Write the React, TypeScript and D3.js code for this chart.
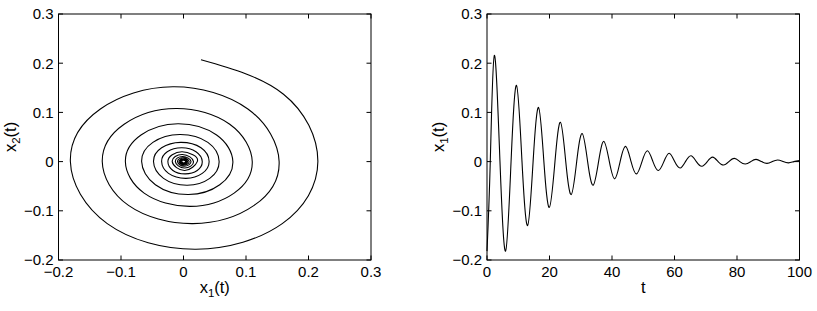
import React from 'react';
import * as d3 from 'd3';

const W = 817;
const H = 311;

// left panel: phase portrait (clockwise). Axis crossings and extremes per turn
const spiralStart = [0.028, 0.207];
const spiralOuterMid = [0.160, 0.137];
const rightX1 = [0.215, 0.153, 0.110, 0.079, 0.057, 0.041, 0.030, 0.022, 0.016, 0.012, 0.009, 0.0065, 0.0047, 0.0034];
const bottomX1 = [0.020, 0.015, 0.011, 0.008, 0.006, 0.004, 0.003, 0.002, 0.0015, 0.001, 0.0008, 0.0006, 0.0004, 0.0003];
const bottomX2 = [-0.178, -0.126, -0.091, -0.067, -0.048, -0.034, -0.025, -0.018, -0.013, -0.0095, -0.007, -0.005, -0.0037, -0.0027];
const leftX1 = [-0.181, -0.130, -0.093, -0.067, -0.048, -0.035, -0.025, -0.018, -0.013, -0.0095, -0.007, -0.005, -0.0037, -0.0027];
const topX1 = [-0.017, -0.012, -0.009, -0.006, -0.0045, -0.003, -0.0022, -0.0016, -0.0012, -0.0009, -0.0006, -0.0005, -0.0003];
const topX2 = [0.152, 0.108, 0.077, 0.055, 0.039, 0.028, 0.020, 0.0145, 0.0105, 0.0077, 0.0056, 0.004, 0.003];
// in-between readings on the outer turns (right-bottom, bottom-left, left-top, top-right)
const rbX1 = [0.158, 0.113, 0.081, 0.058, 0.042, 0.030, 0.022];
const rbX2 = [-0.126, -0.089, -0.064, -0.047, -0.034, -0.024, -0.018];
const blX1 = [-0.122, -0.088, -0.063, -0.045, -0.032, -0.024, -0.017];
const blX2 = [-0.126, -0.089, -0.064, -0.047, -0.034, -0.024, -0.018];
const ltX1 = [-0.133, -0.095, -0.068, -0.049, -0.035, -0.026, -0.018];
const ltX2 = [0.107, 0.076, 0.054, 0.039, 0.028, 0.020, 0.014];
const trX1 = [0.103, 0.074, 0.053, 0.039, 0.028, 0.020, 0.015];
const trX2 = [0.107, 0.076, 0.054, 0.039, 0.028, 0.020, 0.014];

// right panel: x1(t), read at the peaks, troughs and zero crossings
const seriesStart = [0, -0.182];
const seriesEnd = [100, 0.002];
const peakT = [2.35, 9.45, 16.5, 23.5, 30.45, 37.4, 44.35, 51.35, 58.3, 65.25, 72.2, 79.15, 86.1, 93.0];
const peakX = [0.216, 0.155, 0.110, 0.080, 0.057, 0.041, 0.031, 0.022, 0.017, 0.012, 0.009, 0.0065, 0.0045, 0.0032];
const troughT = [5.95, 13.0, 19.95, 26.95, 33.95, 40.9, 47.85, 54.85, 61.8, 68.75, 75.7, 82.65, 89.6, 96.5];
const troughX = [-0.182, -0.130, -0.093, -0.067, -0.048, -0.035, -0.025, -0.018, -0.013, -0.0095, -0.007, -0.005, -0.0036, -0.0026];
const zeroT = [1.05, 4.15, 7.7, 11.2, 14.75, 18.2, 21.75, 25.2, 28.7, 32.2, 35.7, 39.15, 42.6, 46.1, 49.6,
  53.1, 56.6, 60.05, 63.5, 67.0, 70.5, 73.95, 77.4, 80.9, 84.4, 87.85, 91.3, 94.75, 98.2];

const phaseTicks = [-0.2, -0.1, 0, 0.1, 0.2, 0.3];
const timeTicks = [0, 20, 40, 60, 80, 100];

// build point lists
const spiral: [number, number][] = [
  [spiralStart[0], spiralStart[1]],
  [spiralOuterMid[0], spiralOuterMid[1]],
];
rightX1.forEach((r, i) => {
  const fine = i < rbX1.length;
  spiral.push([r, 0]);
  if (fine) spiral.push([rbX1[i], rbX2[i]]);
  if (i < bottomX1.length) spiral.push([bottomX1[i], bottomX2[i]]);
  if (fine) spiral.push([blX1[i], blX2[i]]);
  if (i < leftX1.length) spiral.push([leftX1[i], 0]);
  if (fine) spiral.push([ltX1[i], ltX2[i]]);
  if (i < topX1.length) spiral.push([topX1[i], topX2[i]]);
  if (fine) spiral.push([trX1[i], trX2[i]]);
});

const series: [number, number][] = [
  [seriesStart[0], seriesStart[1]],
  ...peakT.map((t, i) => [t, peakX[i]] as [number, number]),
  ...troughT.map((t, i) => [t, troughX[i]] as [number, number]),
  ...zeroT.map((t) => [t, 0] as [number, number]),
  [seriesEnd[0], seriesEnd[1]],
].sort((a, b) => a[0] - b[0]);

const font = '"Liberation Sans", Arial, Helvetica, sans-serif';
const fmt = d3.format('');

const Label = ({ sub }: { sub: string }) => (
  <>
    <tspan>x</tspan>
    <tspan dy={4} fontSize={11.5}>{sub}</tspan>
    <tspan dy={-4}>(t)</tspan>
  </>
);

type PanelProps = {
  x0: number; x1: number; y0: number; y1: number;
  xDomain: [number, number]; yDomain: [number, number];
  xTicks: number[]; yTicks: number[];
  data: [number, number][];
  xLabel: React.ReactNode; yLabel: React.ReactNode;
  yLabelX: number;
};

const Panel = (p: PanelProps) => {
  const x = d3.scaleLinear().domain(p.xDomain).range([p.x0, p.x1]);
  const y = d3.scaleLinear().domain(p.yDomain).range([p.y1, p.y0]);
  const line = d3.line<[number, number]>()
    .x((d) => x(d[0]))
    .y((d) => y(d[1]))
    .curve(d3.curveNatural);
  const tl = 4.5;
  const cy = (p.y0 + p.y1) / 2;
  return (
    <g fontFamily={font} fontSize={15} fill="#000">
      <path d={line(p.data) || ''} fill="none" stroke="#000" strokeWidth={1.1} />
      <rect x={p.x0} y={p.y0} width={p.x1 - p.x0} height={p.y1 - p.y0}
        fill="none" stroke="#000" strokeWidth={1} />
      {p.xTicks.map((t) => (
        <g key={'x' + t}>
          <line x1={x(t)} x2={x(t)} y1={p.y1} y2={p.y1 - tl} stroke="#000" />
          <line x1={x(t)} x2={x(t)} y1={p.y0} y2={p.y0 + tl} stroke="#000" />
          <text x={x(t)} y={p.y1 + 17} textAnchor="middle">{fmt(t)}</text>
        </g>
      ))}
      {p.yTicks.map((t) => (
        <g key={'y' + t}>
          <line x1={p.x0} x2={p.x0 + tl} y1={y(t)} y2={y(t)} stroke="#000" />
          <line x1={p.x1} x2={p.x1 - tl} y1={y(t)} y2={y(t)} stroke="#000" />
          <text x={p.x0 - 5} y={y(t)} dy="0.36em" textAnchor="end">{fmt(t)}</text>
        </g>
      ))}
      <text x={(p.x0 + p.x1) / 2} y={p.y1 + 33} textAnchor="middle" fontSize={16.5}>{p.xLabel}</text>
      <text transform={`translate(${p.yLabelX},${cy}) rotate(-90)`} textAnchor="middle" fontSize={16.5}>
        {p.yLabel}
      </text>
    </g>
  );
};

export default function App() {
  return (
    <svg width={W} height={H} style={{ position: 'absolute', left: 0, top: 0, background: '#fff' }}>
      <Panel x0={58.5} x1={371} y0={14} y1={260}
        xDomain={[-0.2, 0.3]} yDomain={[-0.2, 0.3]}
        xTicks={phaseTicks} yTicks={phaseTicks} data={spiral}
        xLabel={<Label sub="1" />} yLabel={<Label sub="2" />} yLabelX={16} />
      <Panel x0={487} x1={799.5} y0={14} y1={260}
        xDomain={[0, 100]} yDomain={[-0.2, 0.3]}
        xTicks={timeTicks} yTicks={phaseTicks} data={series}
        xLabel="t" yLabel={<Label sub="1" />} yLabelX={444} />
    </svg>
  );
}
